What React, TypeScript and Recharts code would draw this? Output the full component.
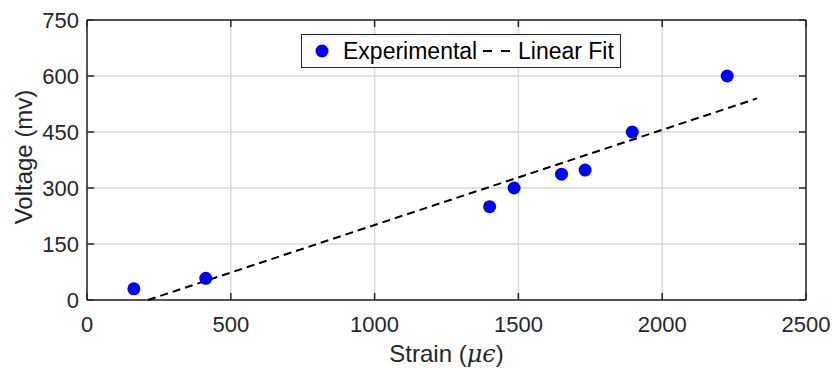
import { ComposedChart, Scatter, XAxis, YAxis, CartesianGrid, Legend } from 'recharts';

// measured points
const strain = [163, 413, 1400, 1485, 1650, 1732, 1896, 2226];
const voltage = [30, 58, 250, 300, 337, 348, 450, 600];

// linear fit end points
const fitStrain = [212, 2330];
const fitVoltage = [0, 540];

const xTicks = [0, 500, 1000, 1500, 2000, 2500];
const yTicks = [0, 150, 300, 450, 600, 750];

const experimental = strain.map((s, i) => ({ strain: s, voltage: voltage[i] }));
const linearFit = fitStrain.map((s, i) => ({ strain: s, voltage: fitVoltage[i] }));

const AX = '#262626';
const FONT = '"Liberation Sans", Arial, sans-serif';
const FS = 22;
const TITLE_FS = 24;
const LEG_FS = 23;
const TICK = 7;

const BottomTick = (props: any) => {
  const { x, y, payload } = props;
  return (
    <g>
      <line x1={x} x2={x} y1={y - 16} y2={y - 16 - TICK} stroke={AX} strokeWidth={1.5} />
      <text x={x} y={y} dy="0.71em" textAnchor="middle" fill={AX} fontSize={FS} fontFamily={FONT}>
        {payload.value}
      </text>
    </g>
  );
};

const LeftTick = (props: any) => {
  const { x, y, payload } = props;
  return (
    <g>
      <line x1={x + 8} x2={x + 8 + TICK} y1={y} y2={y} stroke={AX} strokeWidth={1.5} />
      <text x={x} y={y} dy="0.355em" textAnchor="end" fill={AX} fontSize={FS} fontFamily={FONT}>
        {payload.value}
      </text>
    </g>
  );
};

const TopTick = (props: any) => {
  const { x, y } = props;
  return <line x1={x} x2={x} y1={y} y2={y + TICK} stroke={AX} strokeWidth={1.5} />;
};

const RightTick = (props: any) => {
  const { x, y } = props;
  return <line x1={x} x2={x - TICK} y1={y} y2={y} stroke={AX} strokeWidth={1.5} />;
};

const LegendBox = () => (
  <div
    style={{
      position: 'absolute',
      left: 301,
      top: 34,
      width: 320,
      height: 34,
      boxSizing: 'border-box',
      border: `1.5px solid ${AX}`,
      background: '#fff',
    }}
  >
    <svg width={320} height={34} style={{ position: 'absolute', left: -1.5, top: -1.5 }}>
      <circle cx={21} cy={17} r={6.5} fill="#0000ff" />
      <text x={42} y={17} dy="0.355em" fontSize={LEG_FS} fontFamily={FONT} fill="#000">Experimental</text>
      <line x1={182} x2={210} y1={17} y2={17} stroke="#000" strokeWidth={2} strokeDasharray="9 9" />
      <text x={217} y={17} dy="0.355em" fontSize={LEG_FS} fontFamily={FONT} fill="#000">Linear Fit</text>
    </svg>
  </div>
);

export default function App() {
  return (
    <div style={{ position: 'absolute', left: 0, top: 0, width: 833, height: 370, background: '#fff' }}>
      <ComposedChart width={833} height={370} margin={{ top: 19, right: 26, bottom: 0, left: 0 }}>
        <CartesianGrid
          xAxisId="b"
          yAxisId="l"
          stroke="#d9d9d9"
          strokeWidth={1.5}
          horizontalValues={yTicks}
          verticalValues={xTicks}
        />
        <XAxis
          xAxisId="b"
          type="number"
          dataKey="strain"
          domain={[0, 2500]}
          ticks={xTicks}
          height={70}
          tickSize={0}
          tickMargin={16}
          tickLine={false}
          axisLine={{ stroke: AX, strokeWidth: 1.5 }}
          tick={<BottomTick />}
          label={{
            content: (p: any) => {
              const vb = p.viewBox;
              return (
                <text x={vb.x + vb.width / 2} y={362} textAnchor="middle" fill={AX} fontSize={TITLE_FS} fontFamily={FONT}>
                  Strain (<tspan fontStyle="italic" fontFamily="'DejaVu Serif', serif">μϵ</tspan>)
                </text>
              );
            },
          }}
        />
        <XAxis
          xAxisId="t"
          orientation="top"
          type="number"
          dataKey="strain"
          domain={[0, 2500]}
          ticks={xTicks}
          height={1}
          tickSize={0}
          tickMargin={0}
          tickLine={false}
          axisLine={{ stroke: AX, strokeWidth: 1.5 }}
          tick={<TopTick />}
        />
        <YAxis
          yAxisId="l"
          type="number"
          dataKey="voltage"
          domain={[0, 750]}
          ticks={yTicks}
          width={87}
          tickSize={0}
          tickMargin={8}
          tickLine={false}
          axisLine={{ stroke: AX, strokeWidth: 1.5 }}
          tick={<LeftTick />}
          label={{
            content: (p: any) => {
              const vb = p.viewBox;
              const cy = vb.y + vb.height / 2 - 3;
              return (
                <text
                  x={32}
                  y={cy}
                  transform={`rotate(-90 32 ${cy})`}
                  textAnchor="middle"
                  fill={AX}
                  fontSize={TITLE_FS}
                  fontFamily={FONT}
                >
                  Voltage (mv)
                </text>
              );
            },
          }}
        />
        <YAxis
          yAxisId="r"
          orientation="right"
          type="number"
          dataKey="voltage"
          domain={[0, 750]}
          ticks={yTicks}
          width={1}
          tickSize={0}
          tickMargin={0}
          tickLine={false}
          axisLine={{ stroke: AX, strokeWidth: 1.5 }}
          tick={<RightTick />}
        />
        <Scatter
          name="Linear Fit"
          data={linearFit}
          xAxisId="b"
          yAxisId="l"
          line={{ stroke: '#000', strokeWidth: 2, strokeDasharray: '8 5' }}
          shape={() => null}
          isAnimationActive={false}
        />
        <Scatter
          name="Experimental"
          data={experimental}
          xAxisId="b"
          yAxisId="l"
          fill="#0000ff"
          shape={(p: any) => <circle cx={p.cx} cy={p.cy} r={6.5} fill="#0000ff" />}
          isAnimationActive={false}
        />
        <Scatter data={experimental} xAxisId="t" yAxisId="r" shape={() => null} isAnimationActive={false} />
        <Legend content={() => <LegendBox />} wrapperStyle={{ position: 'absolute', left: 0, top: 0, width: 0, height: 0 }} />
      </ComposedChart>
    </div>
  );
}
